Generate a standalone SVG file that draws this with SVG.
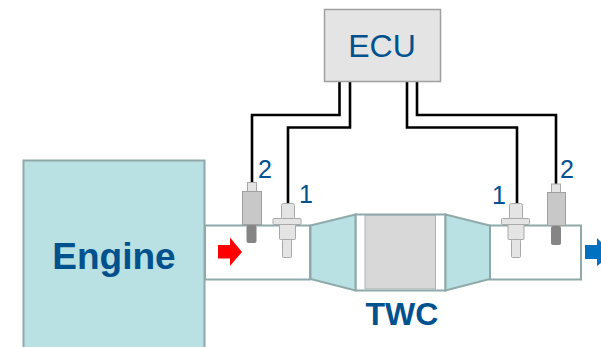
<svg xmlns="http://www.w3.org/2000/svg" width="601" height="347" viewBox="0 0 601 347">
<style>
.t{fill:#00528f;font-family:"Liberation Sans",Arial,sans-serif}
.w{fill:none;stroke:#000;stroke-width:2.6}
.p{fill:#fff;stroke:#8fa9aa;stroke-width:2}
.c{fill:#b9e0e2;stroke:#8fa9aa;stroke-width:2}
.a{fill:#e4e4e4;stroke:#a9a9a9;stroke-width:1}
.b{fill:#c8c8c8;stroke:#a0a0a0;stroke-width:1}
</style>
<rect width="601" height="347" fill="#fff"/>
<g id="pipe-left"><rect class="p" x="205" y="225.500" width="105" height="54"/></g>
<g id="pipe-right"><rect class="p" x="490" y="225.500" width="91" height="54"/></g>
<g id="twc">
<rect class="p" x="355.500" y="214.500" width="90" height="76"/>
<rect x="365" y="215.500" width="70.500" height="73.500" fill="#d8d8d8" stroke="#a9b5b5"/>
<path class="c" d="M310.500 225.500L355.500 214.500V290.500L310.500 279Z"/>
<path class="c" d="M445.500 214.500L490 225.500V279L445.500 290.500Z"/>
<text x="402" y="325" text-anchor="middle" class="t" font-size="32" font-weight="bold">TWC</text>
</g>
<g id="engine">
<rect x="23.500" y="160.500" width="181" height="190" fill="#b9e0e2" stroke="#8fa9aa" stroke-width="2"/>
<text x="114" y="269" text-anchor="middle" class="t" font-size="37" font-weight="bold">Engine</text>
</g>
<g id="connectors">
<path class="w" d="M339.500 81V115H252V184"/>
<path class="w" d="M350 81V127.500H288V205"/>
<path class="w" d="M407 81V127.500H517V205"/>
<path class="w" d="M417 81V115H556V184"/>
</g>
<g id="ecu">
<rect x="324.500" y="9.500" width="116" height="72" fill="#e4e4e4" stroke="#a0a0a0" stroke-width="1.500"/>
<text x="382" y="57" text-anchor="middle" class="t" font-size="32">ECU</text>
</g>
<g id="sensor-left-2">
<rect x="247.500" y="182.500" width="9" height="9" class="a"/>
<rect x="242.500" y="191.500" width="19" height="33" class="b"/>
<rect x="246.500" y="225" width="10" height="18" rx="2" fill="#858585"/>
<text x="265" y="178" class="t" font-size="25" text-anchor="middle">2</text>
</g>
<g id="sensor-left-1">
<rect x="281.500" y="203.500" width="13" height="16" rx="2" class="a"/>
<rect x="273" y="218.500" width="28" height="6" rx="1" class="a"/>
<rect x="279.500" y="224.500" width="16" height="15" rx="1" class="a"/>
<rect x="282.500" y="239.500" width="9" height="18" rx="1" class="a"/>
<text x="306" y="203" class="t" font-size="25" text-anchor="middle">1</text>
</g>
<g id="sensor-right-1">
<rect x="509.500" y="203.500" width="13" height="16" rx="2" class="a"/>
<rect x="501.500" y="218.500" width="28" height="6" rx="1" class="a"/>
<rect x="508" y="224.500" width="16" height="15" rx="1" class="a"/>
<rect x="511.500" y="239.500" width="9" height="18" rx="1" class="a"/>
<text x="499" y="204" class="t" font-size="25" text-anchor="middle">1</text>
</g>
<g id="sensor-right-2">
<rect x="551.500" y="184" width="9" height="9" class="a"/>
<rect x="547.500" y="192.500" width="18" height="33" class="b"/>
<rect x="551" y="226" width="10" height="19" rx="2" fill="#858585"/>
<text x="567" y="178" class="t" font-size="25" text-anchor="middle">2</text>
</g>
<g id="flow-in"><path d="M218 245H230V237.500L242 252L230 266V258.500H218Z" fill="#f00"/></g>
<g id="flow-out"><path d="M585 245H597V238L601 242V263L597 266V259H585Z" fill="#0070c0"/></g>
</svg>
